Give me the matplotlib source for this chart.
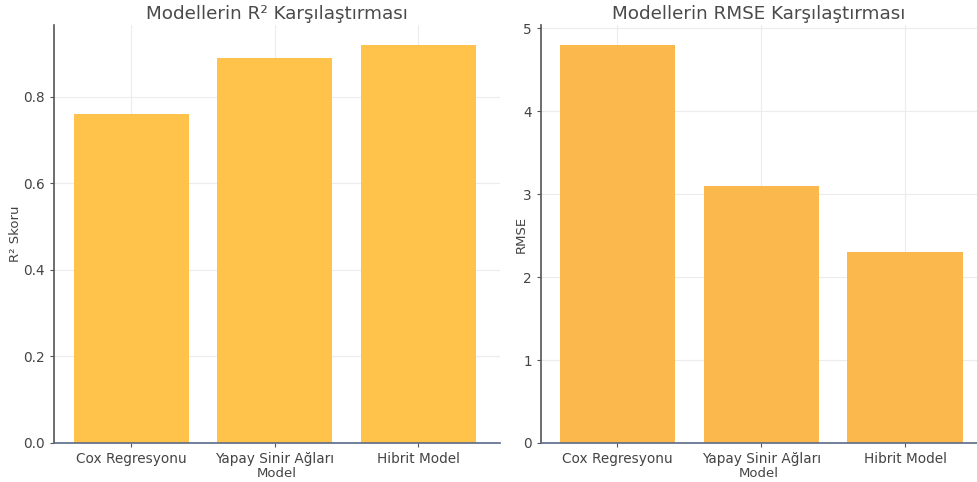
import matplotlib
matplotlib.use("Agg")
import matplotlib.pyplot as plt

models = ["Cox Regresyonu", "Yapay Sinir Ağları", "Hibrit Model"]
r2_scores = [0.76, 0.89, 0.92]
rmse_scores = [4.8, 3.1, 2.3]

plt.rcParams['font.family'] = ['DejaVu Sans']

fig = plt.figure(figsize=(9.77, 4.82), dpi=100)
W, H = 977.0, 482.0
ax1 = fig.add_axes([54 / W, 1 - 443 / H, (500 - 54) / W, (443 - 25) / H])
ax2 = fig.add_axes([541 / W, 1 - 443 / H, (977 - 541) / W, (443 - 25) / H])


def style(ax):
    ax.set_axisbelow(True)
    ax.grid(True, color='#ececec', linewidth=0.8)
    for s in ['top', 'right']:
        ax.spines[s].set_visible(False)
    ax.spines['left'].set_color('#555555')
    ax.spines['bottom'].set_color('#5b6a86')
    ax.spines['left'].set_linewidth(1.2)
    ax.spines['bottom'].set_linewidth(1.2)
    ax.tick_params(colors='#555555', labelcolor='#444444', labelsize=9.8, length=3)


ax1.bar(models, r2_scores, color='#ffc24a', width=0.8)
style(ax1)
ax1.set_xlim(-0.54, 2.57)
ax1.set_ylim(0, max(r2_scores) * 1.05)
ax1.set_yticks([0.0, 0.2, 0.4, 0.6, 0.8])
ax1.set_title("Modellerin R² Karşılaştırması", fontsize=13.2, color='#4a4a4a', pad=4)
ax1.set_xlabel("Model", fontsize=9.5, color='#444444', labelpad=1)
ax1.set_ylabel("R² Skoru", fontsize=9.5, color='#444444', labelpad=1)

ax2.bar(models, rmse_scores, color='#fbb84d', width=0.8)
style(ax2)
ax2.set_xlim(-0.53, 2.5)
ax2.set_ylim(0, max(rmse_scores) * 1.05)
ax2.set_title("Modellerin RMSE Karşılaştırması", fontsize=13.2, color='#4a4a4a', pad=4)
ax2.set_xlabel("Model", fontsize=9.5, color='#444444', labelpad=1)
ax2.set_ylabel("RMSE", fontsize=9.5, color='#444444', labelpad=-3)

fig.savefig("out.png", dpi=100)
